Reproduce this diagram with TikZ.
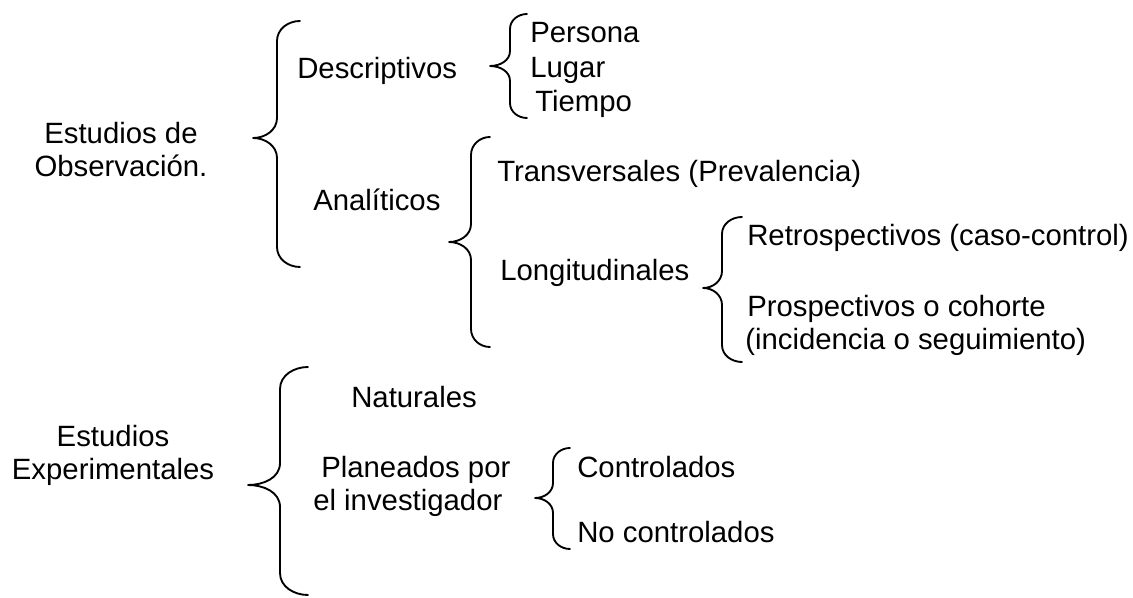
\documentclass[tikz,border=0pt]{standalone}
\usepackage{fontspec}
\setmainfont{Liberation Sans}
\newcommand{\wbrace}[7]{\draw[bracestyle] (#1,#2) to[out=180,in=90] (#3,#2+#7) -- (#3,#5-#7) to[out=-90,in=0] (#4,#5) to[out=0,in=90] (#3,#5+#7) -- (#3,#6-#7) to[out=-90,in=180] (#1,#6);}
\begin{document}
\begin{tikzpicture}[x=0.75pt,y=-0.75pt,
  bracestyle/.style={line width=1.4pt,line join=round,line cap=round},
  lbl/.style={inner sep=0pt,font=\fontsize{22}{24.75}\selectfont},
  lbll/.style={lbl,anchor=base west},
  lblc/.style={lbl,anchor=base,align=center}]
\useasboundingbox (0,0) rectangle (1133,598);
% braces
\wbrace{300}{21}{277}{253}{138}{267}{20}
\wbrace{527}{14}{510}{490}{66}{118}{15}
\wbrace{490}{137}{471}{449}{242}{347}{18}
\wbrace{742}{217}{722}{703}{288}{362}{17}
\wbrace{308}{367}{280}{248}{485}{595}{22}
\wbrace{570}{448}{553}{535}{498}{549}{15}
% texts (base anchor = baseline of the last line)
\node[lblc] (obs) at (121,177) {Estudios de\\Observación.};
\node[lbll] (desc) at (297,79) {Descriptivos};
\node[lbll] (pers) at (530,43) {Persona};
\node[lbll] (lug) at (530,78) {Lugar};
\node[lbll] (tiem) at (535,112) {Tiempo};
\node[lbll] (anal) at (313,211) {Analíticos};
\node[lbll] (trans) at (497,182) {Transversales (Prevalencia)};
\node[lbll] (long) at (500,281) {Longitudinales};
\node[lbll] (retro) at (747,246) {Retrospectivos (caso-control)};
\node[lbll] (prosp) at (747,317) {Prospectivos o cohorte};
\node[lbll] (incid) at (745,350) {(incidencia o seguimiento)};
\node[lblc] (exp) at (113,480) {Estudios\\Experimentales};
\node[lbll] (nat) at (351,408) {Naturales};
\node[lbll] (plan) at (321,478) {Planeados por};
\node[lbll] (inv) at (313,511) {el investigador};
\node[lbll] (ctrl) at (577,478) {Controlados};
\node[lbll] (noctrl) at (577,543) {No controlados};
\end{tikzpicture}
\end{document}
